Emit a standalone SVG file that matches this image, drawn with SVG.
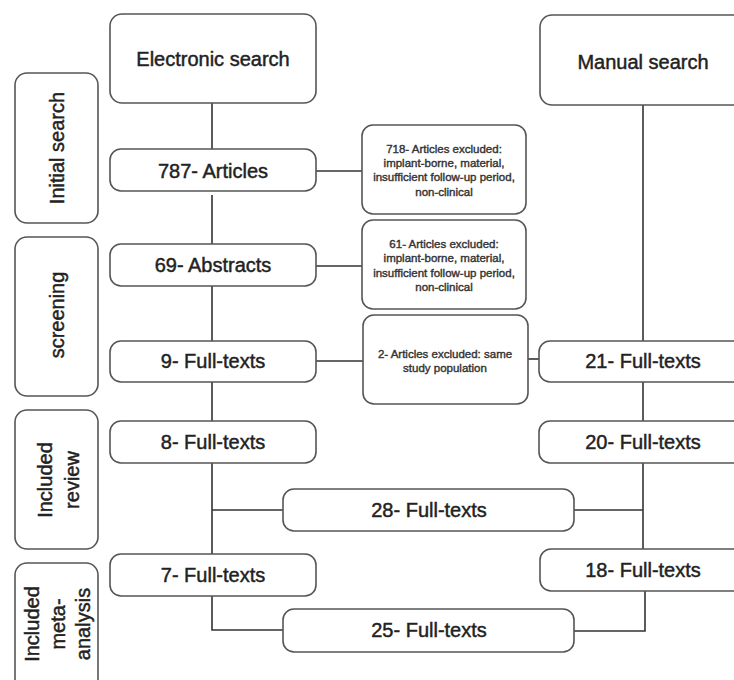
<svg xmlns="http://www.w3.org/2000/svg" width="734" height="680" viewBox="0 0 734 680">
<style>
.box{fill:#fff;stroke:#555;stroke-width:1.6}
.ln{fill:none;stroke:#333;stroke-width:1.6}
.t{font-family:"Liberation Sans",Arial,sans-serif;font-size:20px;fill:#222;stroke:#222;stroke-width:0.45;text-anchor:middle}
.s{font-family:"Liberation Sans",Arial,sans-serif;font-size:11.5px;fill:#333;stroke:#333;stroke-width:0.4;text-anchor:middle}
</style>
<rect width="734" height="680" fill="#fff"/>
<g id="connectors">
<path class="ln" d="M212,103V149"/>
<path class="ln" d="M212,195V244"/>
<path class="ln" d="M212,286V341"/>
<path class="ln" d="M212,382V421"/>
<path class="ln" d="M212,463V554"/>
<path class="ln" d="M212,510H283"/>
<path class="ln" d="M212,596V630H283"/>
<path class="ln" d="M316,171H362"/>
<path class="ln" d="M316,266H362"/>
<path class="ln" d="M316,361H363"/>
<path class="ln" d="M528,359H539"/>
<path class="ln" d="M643,105V341"/>
<path class="ln" d="M643,382V421"/>
<path class="ln" d="M643,463V549"/>
<path class="ln" d="M574,510H643"/>
<path class="ln" d="M645,591V631H574"/>
</g>
<g id="electronic-search"><rect class="box" x="110" y="14" width="206" height="89" rx="12"/><text class="t" x="213" y="66">Electronic search</text></g>
<g id="manual-search"><rect class="box" x="540" y="15" width="214" height="90" rx="12"/><text class="t" x="643" y="69">Manual search</text></g>
<g id="label-initial"><rect class="box" x="15" y="73" width="83" height="150" rx="12"/><text class="t" transform="translate(57,148) rotate(-90)" x="0" y="7">Initial search</text></g>
<g id="articles-787"><rect class="box" x="110" y="149" width="206" height="42" rx="11"/><text class="t" x="213" y="178">787- Articles</text></g>
<g id="excluded-718"><rect class="box" x="362" y="125" width="164" height="89" rx="11"/>
<text class="s" x="444" y="153">718- Articles excluded:</text>
<text class="s" x="444" y="167">implant-borne, material,</text>
<text class="s" x="444" y="181">insufficient follow-up period,</text>
<text class="s" x="444" y="196">non-clinical</text></g>
<g id="label-screening"><rect class="box" x="15" y="237" width="83" height="159" rx="12"/><text class="t" transform="translate(57,315) rotate(-90)" x="0" y="7">screening</text></g>
<g id="abstracts-69"><rect class="box" x="110" y="244" width="206" height="42" rx="11"/><text class="t" x="213" y="272">69- Abstracts</text></g>
<g id="excluded-61"><rect class="box" x="362" y="220" width="164" height="89" rx="11"/>
<text class="s" x="444" y="248">61- Articles excluded:</text>
<text class="s" x="444" y="262">implant-borne, material,</text>
<text class="s" x="444" y="277">insufficient follow-up period,</text>
<text class="s" x="444" y="291">non-clinical</text></g>
<g id="fulltexts-9"><rect class="box" x="110" y="341" width="206" height="41" rx="11"/><text class="t" x="213" y="368">9- Full-texts</text></g>
<g id="excluded-2"><rect class="box" x="363" y="315" width="165" height="89" rx="11"/>
<text class="s" x="445" y="358">2- Articles excluded: same</text>
<text class="s" x="445" y="372">study population</text></g>
<g id="fulltexts-21"><rect class="box" x="539" y="341" width="214" height="41" rx="11"/><text class="t" x="643" y="368">21- Full-texts</text></g>
<g id="label-review"><rect class="box" x="15" y="410" width="83" height="139" rx="12"/><text class="t" transform="translate(57,480) rotate(-90)"><tspan x="0" y="-5">Included</tspan><tspan x="0" y="22">review</tspan></text></g>
<g id="fulltexts-8"><rect class="box" x="110" y="421" width="206" height="42" rx="11"/><text class="t" x="213" y="449">8- Full-texts</text></g>
<g id="fulltexts-20"><rect class="box" x="539" y="421" width="214" height="42" rx="11"/><text class="t" x="643" y="449">20- Full-texts</text></g>
<g id="fulltexts-28"><rect class="box" x="283" y="489" width="291" height="42" rx="11"/><text class="t" x="429" y="517">28- Full-texts</text></g>
<g id="label-meta"><rect class="box" x="15" y="563" width="83" height="130" rx="12"/><text class="t" transform="translate(57,624) rotate(-90)"><tspan x="0" y="-18">Included</tspan><tspan x="0" y="8">meta-</tspan><tspan x="0" y="33">analysis</tspan></text></g>
<g id="fulltexts-7"><rect class="box" x="110" y="554" width="206" height="42" rx="11"/><text class="t" x="213" y="582">7- Full-texts</text></g>
<g id="fulltexts-18"><rect class="box" x="540" y="549" width="214" height="42" rx="11"/><text class="t" x="643" y="577">18- Full-texts</text></g>
<g id="fulltexts-25"><rect class="box" x="283" y="609" width="291" height="43" rx="11"/><text class="t" x="429" y="637">25- Full-texts</text></g>
</svg>
